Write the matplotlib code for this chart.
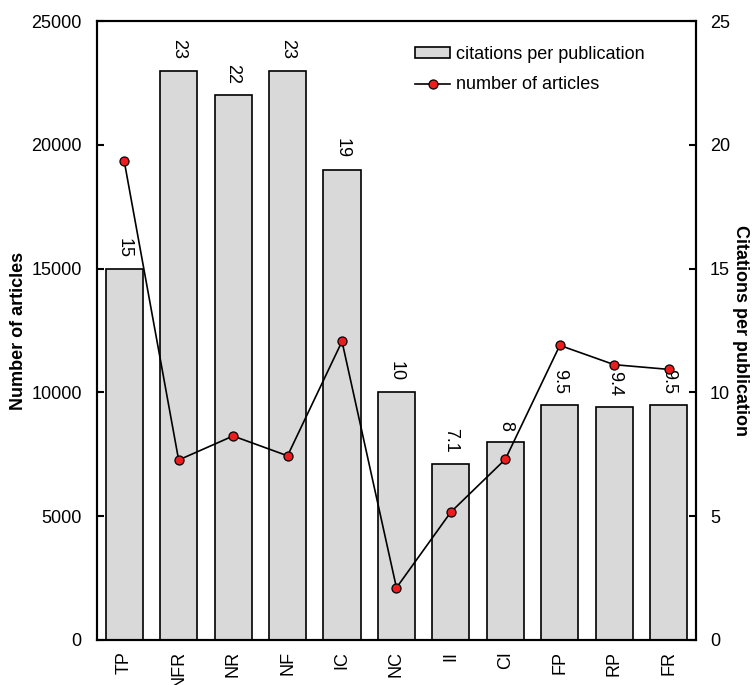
import numpy as np
import matplotlib.pyplot as plt

plt.rcParams['font.family'] = ['Liberation Sans', 'DejaVu Sans']

# --- data ---
categories = ['TP', 'NFR', 'NR', 'NF', 'IC', 'NC', 'II', 'CI', 'FP', 'RP', 'FR']
citations_per_pub = [15, 23, 22, 23, 19, 10, 7.1, 8, 9.5, 9.4, 9.5]
bar_labels = ['15', '23', '22', '23', '19', '10', '7.1', '8', '9.5', '9.4', '9.5']
num_articles = [19350, 7270, 8240, 7440, 12060, 2110, 5170, 7300, 11900, 11120, 10930]

fig = plt.figure(figsize=(7.54, 6.85), dpi=100)
ax = fig.add_axes([0.1286, 0.0657, 0.7944, 0.9036])
ax2 = ax.twinx()

x = np.arange(len(categories))

# bars on the right axis
bars = ax2.bar(x, citations_per_pub, width=0.68, color='#d9d9d9',
               edgecolor='black', linewidth=1.2, label='citations per publication')
for xi, v, lab in zip(x, citations_per_pub, bar_labels):
    ax2.annotate(lab, (xi, v), xytext=(0, 8), textcoords='offset points',
                 ha='center', va='bottom', rotation=270, fontsize=13)
ax2.set_ylim(0, 25)
ax2.set_yticks([0, 5, 10, 15, 20, 25])
ax2.set_ylabel('Citations per publication', fontsize=13, fontweight='bold',
               rotation=270, labelpad=14)

# line on the left axis, drawn over the bars
line, = ax.plot(x, num_articles, color='black', linewidth=1.2, marker='o',
                markersize=6.5, markerfacecolor='#ee1c1c', markeredgecolor='black',
                markeredgewidth=0.9, label='number of articles')
ax.set_zorder(ax2.get_zorder() + 1)
ax.patch.set_visible(False)
ax.set_ylim(0, 25000)
ax.set_yticks([0, 5000, 10000, 15000, 20000, 25000])
ax.set_xlim(-0.5, len(categories) - 0.5)
ax.set_xticks(x)
ax.set_xticklabels(categories, rotation=90, fontsize=13)
ax.set_ylabel('Number of articles', fontsize=13, fontweight='bold', labelpad=3)

ax.tick_params(axis='y', direction='in', length=5, width=1.5, labelsize=13, pad=11)
ax.tick_params(axis='x', length=0, pad=8)
ax2.tick_params(axis='y', direction='in', length=5, width=1.5, labelsize=13, pad=10)
for a in (ax, ax2):
    for s in a.spines.values():
        s.set_linewidth(1.5)

ax.legend([bars, line], ['citations per publication', 'number of articles'],
          loc='upper left', bbox_to_anchor=(0.531, 0.960), frameon=False,
          borderaxespad=0, borderpad=0, fontsize=13, handlelength=1.95,
          handleheight=0.5, handletextpad=0.3, labelspacing=0.75)

fig.savefig('out.png', dpi=100)
